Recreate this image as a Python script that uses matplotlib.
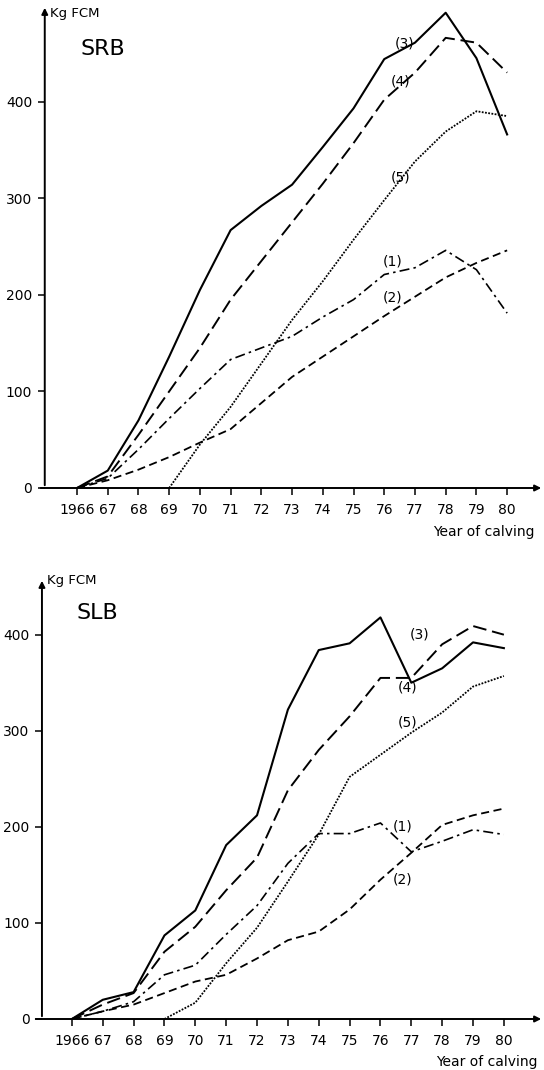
import matplotlib.pyplot as plt

# Years of calving
years = list(range(1966, 1981))
years_5 = list(range(1969, 1981))
year_labels = ['1966'] + [str(y)[2:] for y in years[1:]]

# SRB (kg FCM)
srb_1 = [0, 10, 40, 72, 103, 133, 145, 157, 177, 195, 221, 228, 246, 226, 181]
srb_2 = [0, 8, 19, 32, 47, 61, 88, 115, 136, 157, 178, 198, 218, 233, 246]
srb_3 = [0, 18, 70, 136, 205, 267, 292, 314, 353, 393, 444, 461, 492, 445, 366]
srb_4 = [0, 12, 55, 100, 145, 195, 235, 275, 315, 357, 402, 430, 466, 461, 430]
srb_5 = [0, 45, 84, 129, 174, 214, 257, 298, 338, 369, 390, 385]

# SLB (kg FCM)
slb_1 = [0, 8, 18, 46, 56, 88, 118, 162, 193, 193, 204, 174, 185, 197, 192]
slb_2 = [0, 8, 15, 27, 39, 46, 63, 82, 91, 114, 145, 173, 202, 212, 219]
slb_3 = [0, 20, 28, 87, 113, 181, 212, 322, 384, 391, 418, 350, 365, 392, 386]
slb_4 = [0, 15, 27, 70, 96, 134, 168, 238, 280, 315, 355, 355, 390, 409, 400]
slb_5 = [0, 17, 58, 95, 143, 192, 252, 275, 298, 319, 346, 357]

styles = {
    '1': dict(ls=(0, (6, 2.5, 1.5, 2.5)), lw=1.2),
    '2': dict(ls=(0, (4.5, 2.5)), lw=1.3),
    '3': dict(ls='-', lw=1.5),
    '4': dict(ls=(0, (7, 3)), lw=1.4),
    '5': dict(ls=(0, (1, 0.8)), lw=1.3),
}


def panel(ax, name, s1, s2, s3, s4, s5, yaxis_x, xmax, ytop, labels, kg_pos, name_pos):
    ax.plot(years, s2, color='k', **styles['2'])
    ax.plot(years, s1, color='k', **styles['1'])
    ax.plot(years_5, s5, color='k', **styles['5'])
    ax.plot(years, s4, color='k', **styles['4'])
    ax.plot(years, s3, color='k', **styles['3'])

    ax.set_ylim(0, ytop)
    for sp in ax.spines.values():
        sp.set_visible(False)
    ax.spines['left'].set_position(('data', yaxis_x))
    ax.set_xticks(years)
    ax.set_xticklabels(year_labels)
    ax.set_yticks([0, 100, 200, 300, 400])
    ax.tick_params(direction='out', length=5, width=1.1, labelsize=10, pad=4)
    ax.tick_params(axis='x', pad=6)

    # axis lines with arrow heads
    ax.annotate('', xy=(xmax, 0), xytext=(ax.get_xlim()[0], 0),
                arrowprops=dict(arrowstyle='-|>', lw=1.4, color='k', mutation_scale=9),
                annotation_clip=False)
    ax.annotate('', xy=(yaxis_x, ytop), xytext=(yaxis_x, 0),
                arrowprops=dict(arrowstyle='-|>', lw=1.4, color='k', mutation_scale=9),
                annotation_clip=False)

    for txt, (x, y) in labels.items():
        ax.text(x, y, txt, fontsize=10, ha='center', va='center')
    ax.text(kg_pos[0], kg_pos[1], 'Kg FCM', fontsize=9.5, ha='left', va='center')
    ax.text(name_pos[0], name_pos[1], name, fontsize=16, ha='left', va='center')


fig = plt.figure(figsize=(5.44, 10.70), dpi=100)

ax1 = fig.add_axes([38 / 544, 1 - 488 / 1070, 506 / 544, 483 / 1070])
ax1.set_xlim(1964.73, 1981.2)
panel(ax1, 'SRB', srb_1, srb_2, srb_3, srb_4, srb_5, 1964.95, 1981.2, 500,
      {'(3)': (1976.65, 460), '(4)': (1976.52, 421), '(5)': (1976.52, 321),
       '(1)': (1976.26, 234), '(2)': (1976.26, 197)},
      (1965.12, 491), (1966.1, 454))

ax2 = fig.add_axes([33 / 544, 1 - 1019 / 1070, 511 / 544, 441 / 1070])
ax2.set_xlim(1964.74, 1981.3)
panel(ax2, 'SLB', slb_1, slb_2, slb_3, slb_4, slb_5, 1965.03, 1981.3, 459,
      {'(3)': (1977.28, 400), '(4)': (1976.89, 345), '(5)': (1976.89, 309),
       '(1)': (1976.73, 200), '(2)': (1976.73, 145)},
      (1965.2, 456), (1966.15, 423))

fig.text(535 / 544, 1 - 532 / 1070, 'Year of calving', fontsize=10, ha='right', va='center')
fig.text(538 / 544, 1 - 1062 / 1070, 'Year of calving', fontsize=10, ha='right', va='center')

fig.savefig('out.png', dpi=100)
